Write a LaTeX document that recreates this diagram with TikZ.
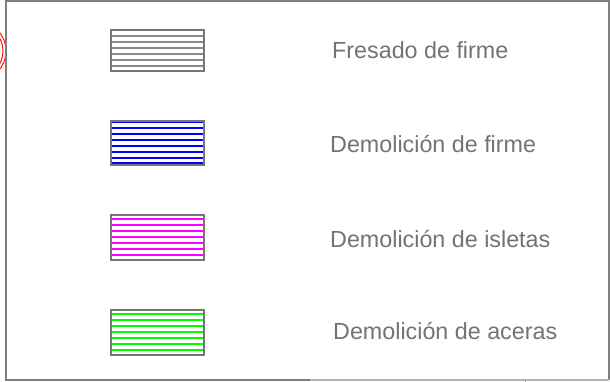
\documentclass[tikz,border=0pt]{standalone}
\usepackage{fontspec}
\setmainfont{Liberation Sans}
\definecolor{framegray}{HTML}{7F7F7F}
\definecolor{boxgray}{HTML}{767676}
\definecolor{txtgray}{HTML}{737373}
\definecolor{hatchgray}{HTML}{8A8A8A}
\definecolor{hblue}{HTML}{0000FF}
\definecolor{hmag}{HTML}{FF00FF}
\definecolor{hgreen}{HTML}{00FF00}
\tikzset{
  swatch/.style={draw=boxgray, line width=1.4pt, minimum width=93pt, inner sep=0pt, outer sep=0pt},
  label/.style={anchor=west, text=txtgray, inner sep=0pt, font=\fontsize{23.3}{28}\selectfont},
  hatch/.style={line width=2pt},
}
\begin{document}
\begin{tikzpicture}[x=1pt,y=-1pt]
\useasboundingbox (0,0) rectangle (610,382);
\fill[white] (0,0) rectangle (610,382);
% clipped remnants of the underlying drawing
\begin{scope}
\clip (0,0) rectangle (6,382);
\draw[red, line width=0.9pt] (-24,51) circle (30);
\draw[red, line width=0.9pt] (-24,51) circle (27);
\end{scope}
\foreach \xx in {31,130,198,314,335,375,432}
  \draw[red, line width=0.8pt] (\xx,0) -- (\xx,1.5);
\foreach \xx in {498,566,580}
  \draw[green!50!black!60, line width=0.8pt] (\xx,0) -- (\xx,1.5);
\draw[green!50!black!60, line width=0.8pt] (525,380) -- (525,382);
% frame
\draw[framegray, line width=2pt] (310,380) -- (6,380) -- (6,1) -- (609,1) -- (609,380);
\draw[framegray!60, line width=2pt] (310,380) -- (609,380);
% swatches
\node[swatch, minimum height=41pt, anchor=north west] (s1) at (111,30) {};
\foreach \yy in {36,42,48,54,60,66}
  \draw[hatchgray, line width=1.6pt] (s1.west |- 0,\yy) -- (s1.east |- 0,\yy);
\node[swatch, minimum height=44pt, anchor=north west] (s2) at (111,121) {};
\foreach \yy in {122.5,128.5,134.5,140.5,146.5,152.5,158.5,163.5}
  \draw[hblue, hatch] (s2.west |- 0,\yy) -- (s2.east |- 0,\yy);
\node[swatch, minimum height=45pt, anchor=north west] (s3) at (111,215) {};
\foreach \yy in {218.5,224.5,230.5,236.5,242.5,248.5,254.5}
  \draw[hmag, hatch] (s3.west |- 0,\yy) -- (s3.east |- 0,\yy);
\node[swatch, minimum height=45pt, anchor=north west] (s4) at (111,310) {};
\foreach \yy in {314,320,326,332,338,344,350}
  \draw[hgreen, hatch] (s4.west |- 0,\yy) -- (s4.east |- 0,\yy);
% redraw outlines on top
\foreach \n in {s1,s2,s3,s4}
  \draw[boxgray, line width=1.4pt] (\n.north west) rectangle (\n.south east);
% labels
\node[label] (t1) at (332,50) {Fresado de firme};
\node[label] (t2) at (330,144) {Demolición de firme};
\node[label] (t3) at (330,239) {Demolición de isletas};
\node[label] (t4) at (333,331) {Demolición de aceras};
\end{tikzpicture}
\end{document}
